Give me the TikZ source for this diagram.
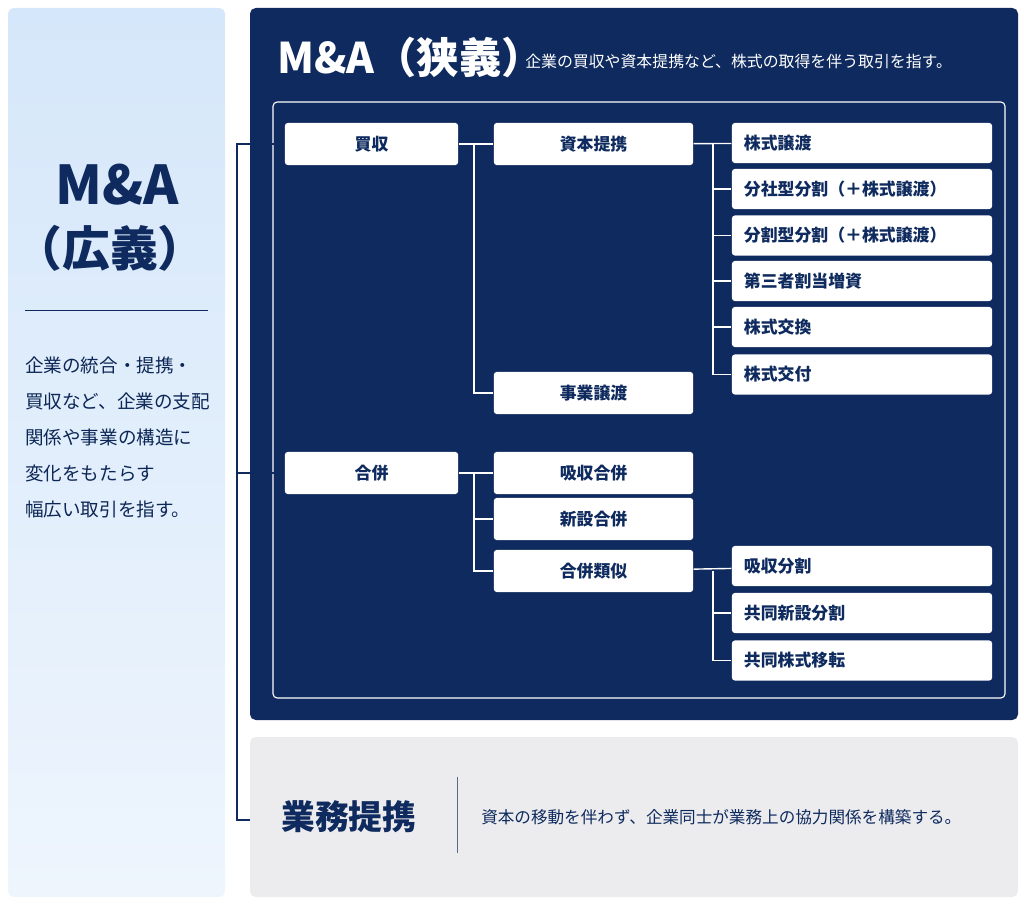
\documentclass[tikz,border=0pt]{standalone}
\usepackage{fontspec}
\setmainfont{Noto Sans CJK JP}
\usetikzlibrary{positioning}
\definecolor{navy}{HTML}{0E2A5E}
\definecolor{panelgray}{HTML}{ECECEE}
\definecolor{skytop}{HTML}{D5E7FA}
\definecolor{skybot}{HTML}{EEF5FD}
\begin{document}
\begin{tikzpicture}[
  x = 0.025cm,
  y = -0.025cm,
  panel/.style = {
    rounded corners = 4pt,
    draw = none
  },
  box/.style = {
    rectangle,
    fill = white,
    rounded corners = 2pt,
    text = navy,
    font = \bfseries\fontsize{12}{14}\selectfont,
    inner sep = 0pt
  },
  lvone/.style = {box, minimum width = 4.33cm, minimum height = 1.05cm},
  lvtwo/.style = {box, minimum width = 4.98cm, minimum height = 1.05cm},
  lvthree/.style = {box, minimum width = 6.5cm, minimum height = 1.0cm,
    text width = 5.9cm, align = left, inner xsep = 0.3cm},
  link/.style = {draw = white, line width = 1pt},
  every path/.style = {
    thick
  }
]
  \useasboundingbox (0, 0) rectangle (1024, 905);
  % panels
  \path[panel, top color = skytop, bottom color = skybot] (8, 8) rectangle (225, 897);
  \path[panel, fill = navy] (250, 8) rectangle (1018, 720);
  \path[panel, fill = panelgray] (250, 737) rectangle (1018, 897);
  \draw[white, line width = 0.8pt, rounded corners = 3pt] (273, 102) rectangle (1005, 698);

  % left panel text
  \node[text = navy, font = \bfseries\fontsize{38}{40}\selectfont] (wide) at (117, 185) {M\&A};
  \node[text = navy, font = \bfseries\fontsize{34}{40}\selectfont] (widep) at (110, 248) {（広義）};
  \draw[navy, line width = 0.6pt] (25, 310) -- (208, 310);
  \node[anchor = north west, text = navy!90!black, align = left,
    font = \fontsize{13.2}{25.5}\selectfont] (widetext) at (20, 352)
    {企業の統合・提携・\\買収など、企業の支配\\関係や事業の構造に\\変化をもたらす\\幅広い取引を指す。};

  % title
  \node[anchor = west, text = white, font = \bfseries\fontsize{30}{34}\selectfont] (narrow) at (272, 57) {M\&A（狭義）};
  \node[anchor = west, text = white, font = \fontsize{11.3}{13}\selectfont] (narrowtext) at (520, 61)
    {企業の買収や資本提携など、株式の取得を伴う取引を指す。};

  % level 1
  \node[lvone] (kaishu) at (371.5, 144) {買収};
  \node[lvone] (gappei) at (371.5, 473) {合併};

  % level 2
  \node[lvtwo] (shihon) at (593.5, 144) {資本提携};
  \node[lvtwo] (jigyo) at (593.5, 393) {事業譲渡};
  \node[lvtwo] (kyushu) at (593.5, 473) {吸収合併};
  \node[lvtwo] (shinsetsu) at (593.5, 519) {新設合併};
  \node[lvtwo] (ruiji) at (593.5, 571) {合併類似};

  % level 3
  \node[lvthree] (kjoto) at (862, 143) {株式譲渡};
  \node[lvthree] (bunsha) at (862, 189) {分社型分割（＋株式譲渡）};
  \node[lvthree] (bunkatsu) at (862, 235.5) {分割型分割（＋株式譲渡）};
  \node[lvthree] (daisan) at (862, 281) {第三者割当増資};
  \node[lvthree] (kokan) at (862, 327) {株式交換};
  \node[lvthree] (kofu) at (862, 374.5) {株式交付};
  \node[lvthree] (kbunkatsu) at (862, 566) {吸収分割};
  \node[lvthree] (kyodo) at (862, 613) {共同新設分割};
  \node[lvthree] (iten) at (862, 660.5) {共同株式移転};

  % connectors
  \coordinate (forkA) at (474, 144);
  \coordinate (forkB) at (713, 144);
  \coordinate (forkC) at (474, 473);
  \coordinate (forkD) at (713, 571);
  \draw[link] (kaishu) -- (shihon);
  \draw[link] (forkA) |- (jigyo);
  \draw[link] (shihon) -- (kjoto);
  \foreach \n in {bunsha, bunkatsu, daisan, kokan, kofu}
    \draw[link] (forkB) |- (\n);
  \draw[link] (gappei) -- (kyushu);
  \foreach \n in {shinsetsu, ruiji}
    \draw[link] (forkC) |- (\n);
  \draw[link] (ruiji) -- (kbunkatsu);
  \foreach \n in {kyodo, iten}
    \draw[link] (forkD) |- (\n);

  % business alliance
  \node[anchor = west, text = navy, font = \bfseries\fontsize{24}{28}\selectfont] (gyomu) at (276, 817) {業務提携};
  \draw[navy!70, line width = 0.6pt] (457, 777) -- (457, 853);
  \node[anchor = west, text = navy, font = \fontsize{11.8}{14}\selectfont] (gyomutext) at (476, 817)
    {資本の移動を伴わず、企業同士が業務上の協力関係を構築する。};

  % outer bracket
  \coordinate (brtop) at (237, 144);
  \coordinate (brmid) at (237, 473);
  \coordinate (brbot) at (237, 820);
  \coordinate (brend) at (250, 820);
  \draw[navy, line width = 1.2pt] (kaishu.west) -- (brtop) -- (brbot) -- (brend);
  \draw[navy, line width = 1.2pt] (brmid) -- (gappei.west);
\end{tikzpicture}
\end{document}
